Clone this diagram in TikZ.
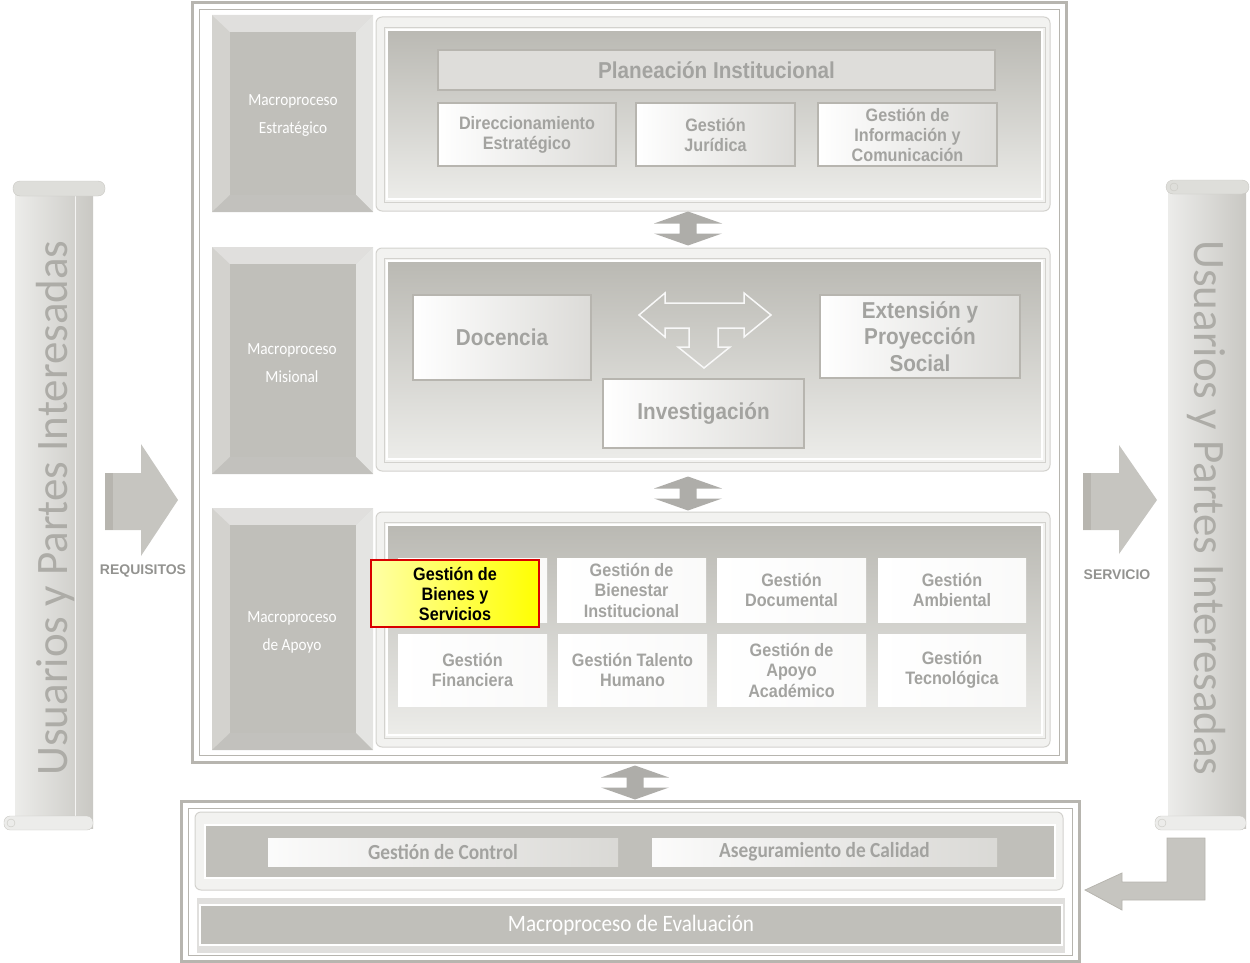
\documentclass[tikz,border=0pt]{standalone}
\usepackage{fontspec}
\newfontfamily\boxfont[FakeStretch=0.9]{Liberation Sans}
\newfontfamily\calfont[FakeStretch=0.9]{Carlito}
\newfontfamily\scrollfont{Carlito}
\newfontfamily\widefont{Liberation Sans}
\usetikzlibrary{shapes,backgrounds}

\definecolor{frameGray}{HTML}{B7B5AF}
\definecolor{panelTop}{HTML}{BAB9B3}
\definecolor{panelBot}{HTML}{ECECE9}
\definecolor{textGray}{HTML}{A3A3A0}
\definecolor{labelOut}{HTML}{D3D2CE}
\definecolor{labelIn}{HTML}{C0BFBA}
\definecolor{arrowGray}{HTML}{C6C5C0}
\definecolor{scrollLight}{HTML}{ECECEA}
\definecolor{scrollDark}{HTML}{C9C8C3}
\definecolor{scrollText}{HTML}{ADACA7}

\begin{document}
\begin{tikzpicture}[x=1pt,y=-1pt,
  every node/.style={inner sep=0pt,align=center},
  gbox/.style={draw=frameGray,line width=1.2pt,left color=white,right color=labelOut!80,
    font=\boxfont\bfseries\fontsize{18}{20}\selectfont,text=textGray},
  bigbox/.style={gbox,font=\boxfont\bfseries\fontsize{23}{26.5}\selectfont},
  apbox/.style={fill=white!95!labelOut,left color=white,right color=white!88!labelOut,
    font=\boxfont\bfseries\fontsize{18}{20.5}\selectfont,text=textGray},
  labtext/.style={text=white,font=\calfont\fontsize{17}{28}\selectfont},
  scrolltext/.style={text=scrollText,font=\scrollfont\fontsize{45}{45}\selectfont},
  flowtext/.style={text=textGray!90!black,font=\widefont\bfseries\fontsize{14}{14}\selectfont}]

  \useasboundingbox (0,0) rectangle (1250,963);

  % main frame and evaluation frame
  \draw[frameGray,line width=3pt] (192,3) rectangle (1066,762);
  \draw[frameGray,line width=1pt] (199,10) rectangle (1059,755);
  \draw[frameGray,line width=3pt] (181,801) rectangle (1079,961);
  \draw[frameGray,line width=1pt] (188,808) rectangle (1072,955);

  % bevelled macroproceso panels
  \foreach \ya/\yb in {15/212,247/474,508/750} {
    \fill[labelOut] (212,\ya) rectangle (373,\yb);
    \fill[labelOut!70!white] (212,\ya) -- (373,\ya) -- (356,\ya+17) -- (230,\ya+17) -- cycle;
    \fill[labelOut!60!white] (373,\ya) -- (373,\yb) -- (356,\yb-17) -- (356,\ya+17) -- cycle;
    \fill[labelOut!92!black] (212,\yb) -- (373,\yb) -- (356,\yb-17) -- (230,\yb-17) -- cycle;
    \fill[labelIn] (230,\ya+17) rectangle (356,\yb-17);
  }

  % content panels
  \foreach \ya/\yb in {17/211,248/471,512/747} {
    \draw[labelOut,line width=1pt,fill=panelBot!70!white,rounded corners=6pt] (376,\ya) rectangle (1050,\yb);
    \draw[white,line width=2pt,top color=panelTop,bottom color=panelBot] (387,\ya+13) rectangle (1042,\yb-12);
    \draw[labelOut,line width=0.8pt] (384,\ya+10) rectangle (1045,\yb-9);
  }

  % Specification of nodes (position, etc.)
  \node[labtext] (est) at (293,116) {Macroproceso\\Estratégico};
  \node[labtext] (mis) at (292,363) {Macroproceso\\Misional};
  \node[labtext] (apo) at (292,632) {Macroproceso\\de Apoyo};

  \node[gbox,minimum width=557pt,minimum height=40pt,left color=labelOut!75!white,right color=labelOut!75!white,
    font=\boxfont\bfseries\fontsize{23}{26}\selectfont] (plan) at (716.5,70) {Planeación Institucional};
  \node[gbox,minimum width=178pt,minimum height=63pt] (dir) at (527,134.5) {Direccionamiento\\Estratégico};
  \node[gbox,minimum width=159pt,minimum height=63pt] (jur) at (715.5,134.5) {Gestión\\Jurídica};
  \node[gbox,minimum width=179pt,minimum height=63pt] (info) at (907.5,134.5) {Gestión de\\Información y\\Comunicación};

  \node[bigbox,minimum width=178pt,minimum height=85pt] (doc) at (502,337.5) {Docencia};
  \node[bigbox,minimum width=200pt,minimum height=83pt] (ext) at (920,336.5) {Extensión y\\Proyección\\Social};
  \node[bigbox,minimum width=201pt,minimum height=69pt] (inv) at (703.5,413.5) {Investigación};

  \node[apbox,minimum width=149pt,minimum height=64pt] (bie0) at (472.5,590) {};
  \node[apbox,minimum width=149pt,minimum height=64pt] (bien) at (631.5,590) {Gestión de\\Bienestar\\Institucional};
  \node[apbox,minimum width=149pt,minimum height=64pt] (docu) at (791.5,590) {Gestión\\Documental};
  \node[apbox,minimum width=148pt,minimum height=64pt] (amb) at (952,590) {Gestión\\Ambiental};
  \node[apbox,minimum width=149pt,minimum height=72pt] (fin) at (472.5,670) {Gestión\\Financiera};
  \node[apbox,minimum width=149pt,minimum height=72pt] (tal) at (632.5,670) {Gestión Talento\\Humano};
  \node[apbox,minimum width=149pt,minimum height=72pt] (aca) at (791.5,670) {Gestión de\\Apoyo\\Académico};
  \node[apbox,minimum width=148pt,minimum height=72pt] (tec) at (952,670) {Gestión\\Tecnológica};
  \node[draw=red!85!black,line width=2.5pt,left color=yellow!35!white,right color=yellow,
    minimum width=168pt,minimum height=67pt,font=\boxfont\bfseries\fontsize{18}{20}\selectfont] (bs) at (455,593.5)
    {Gestión de\\Bienes y\\Servicios};

  % evaluation block
  \draw[labelOut,line width=1pt,fill=panelBot!70!white,rounded corners=6pt] (195,812) rectangle (1063,890);
  \draw[white,line width=2pt,fill=labelIn] (205,825) rectangle (1055,878);
  \node[apbox,left color=white!92!labelOut,right color=labelOut!85!white,minimum width=350pt,minimum height=28pt,
    font=\calfont\bfseries\fontsize{21.5}{21.5}\selectfont] (ctrl) at (443,852) {Gestión de Control};
  \node[apbox,left color=white!92!labelOut,right color=labelOut!85!white,minimum width=345pt,minimum height=28pt,
    font=\calfont\bfseries\fontsize{21.5}{21.5}\selectfont] (cal) at (824.5,852) {Aseguramiento de Calidad};
  \fill[labelOut!70!white] (197,898) rectangle (1065,953);
  \node[fill=labelIn,draw=white,line width=1.5pt,minimum width=862pt,minimum height=40pt,text=white,
    font=\calfont\fontsize{23.5}{23.5}\selectfont] (eval) at (631,925) {Macroproceso de Evaluación};

  % scrolls
  \fill[left color=scrollLight,right color=scrollDark] (15,186) rectangle (93,828);
  \draw[white!80!scrollDark,line width=1pt] (75,190) -- (75,826);
  \draw[scrollDark,fill=scrollLight!60!scrollDark,rounded corners=7pt] (13,181) rectangle (105,196);
  \draw[scrollDark,fill=scrollLight,rounded corners=6pt] (4,816) rectangle (93,830);
  \draw[scrollDark] (11,823) circle (4pt);
  \node[scrolltext,rotate=90] (usL) at (56,508) {Usuarios y Partes Interesadas};

  \fill[left color=scrollLight,right color=scrollDark] (1168,186) rectangle (1246,828);
  \draw[scrollDark,fill=scrollLight!60!scrollDark,rounded corners=7pt] (1166,180) rectangle (1249,194);
  \draw[scrollDark] (1174,187) circle (4pt);
  \draw[scrollDark,fill=scrollLight,rounded corners=6pt] (1155,816) rectangle (1246,830);
  \draw[scrollDark] (1162,823) circle (4pt);
  \node[scrolltext,rotate=-90] (usR) at (1206,508) {Usuarios y Partes Interesadas};

  % block arrows
  \fill[arrowGray] (105,473) -- (141,473) -- (141,444) -- (178,500) -- (141,556) -- (141,530) -- (105,530) -- cycle;
  \fill[frameGray] (105,473) rectangle (113,530);
  \node[flowtext] (req) at (143,571) {REQUISITOS};
  \fill[arrowGray] (1083,473) -- (1119,473) -- (1119,445) -- (1157,500) -- (1119,554) -- (1119,530) -- (1083,530) -- cycle;
  \fill[frameGray] (1083,473) rectangle (1091,530);
  \node[flowtext] (ser) at (1117,575) {SERVICIO};
  \draw[frameGray,fill=arrowGray,line width=0.8pt] (1167,838) -- (1205,838) -- (1205,900) -- (1122,900) -- (1122,910)
    -- (1085,890) -- (1122,873) -- (1122,882) -- (1167,882) -- cycle;

  % double arrows between the rows
  \foreach \cx/\cy in {688/228.5,688/493.5,635/782.5} {
    \fill[arrowGray!88!black] (\cx,\cy-17) -- (\cx+34,\cy-5) -- (\cx+8.5,\cy-5) -- (\cx+8.5,\cy+5) -- (\cx+34,\cy+5)
      -- (\cx,\cy+17) -- (\cx-34,\cy+5) -- (\cx-8.5,\cy+5) -- (\cx-8.5,\cy-5) -- (\cx-34,\cy-5) -- cycle;
  }

  % arrow between the missional processes
  \draw[white!85!labelOut,line width=1.5pt] (639,315) -- (665,293) -- (665,303) -- (744,303) -- (744,293) -- (771,315)
    -- (744,337) -- (744,328) -- (718,328) -- (718,347) -- (730,347) -- (704,368) -- (678,347) -- (689,347)
    -- (689,328) -- (665,328) -- (665,337) -- cycle;

\end{tikzpicture}
\end{document}
